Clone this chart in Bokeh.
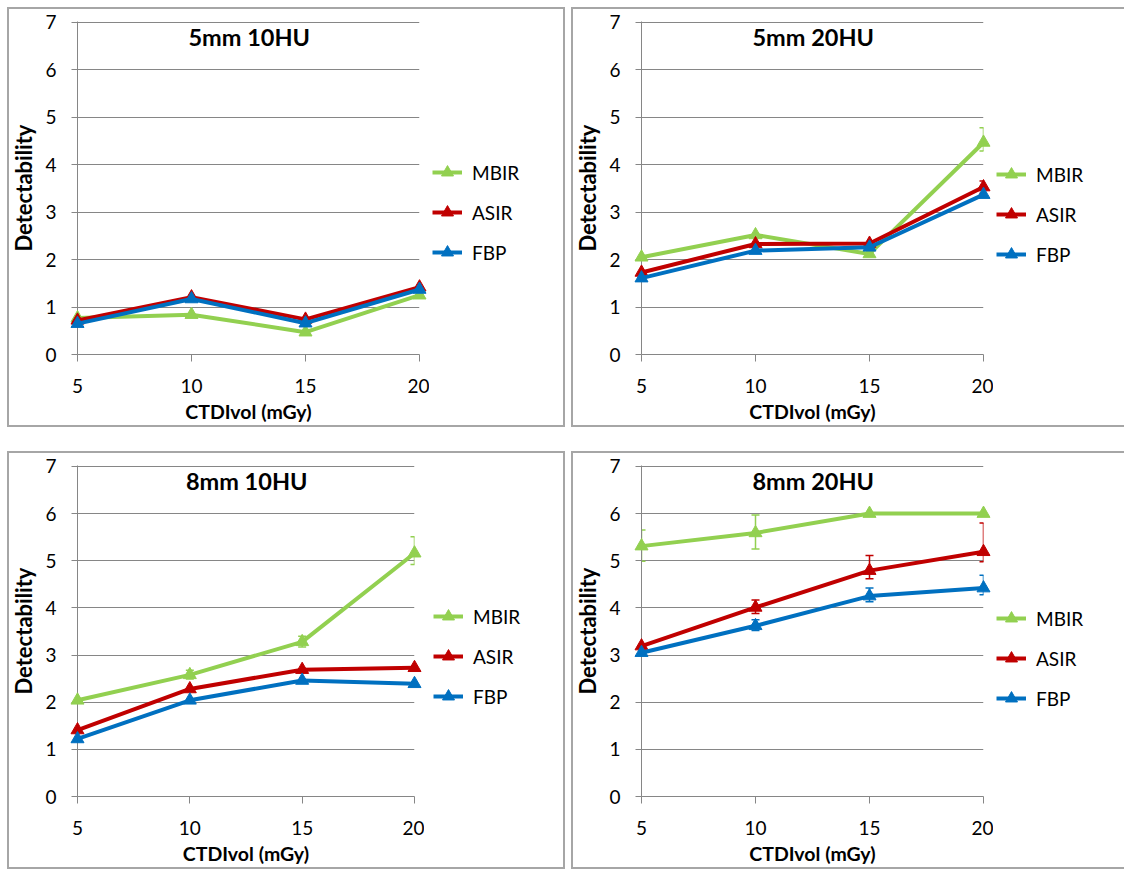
import numpy as np
from bokeh.plotting import figure
from bokeh.layouts import row, column
from bokeh.models import (Range1d, FixedTicker, Legend, LegendItem, Label,
                          Whisker, ColumnDataSource, TeeHead, Spacer)
from bokeh.embed import file_html
from bokeh.resources import INLINE

# ---------------- data ----------------
dose = [5, 10, 15, 20]                 # CTDIvol (mGy)
y_ticks = [0, 1, 2, 3, 4, 5, 6, 7]
series = ["MBIR", "ASIR", "FBP"]
titles = ["5mm 10HU", "5mm 20HU", "8mm 10HU", "8mm 20HU"]

# 5mm 10HU
p1_mbir = [0.77, 0.84, 0.47, 1.25]
p1_asir = [0.72, 1.21, 0.74, 1.42]
p1_fbp = [0.65, 1.17, 0.66, 1.37]

# 5mm 20HU
p2_mbir = [2.05, 2.52, 2.12, 4.47]
p2_asir = [1.73, 2.33, 2.34, 3.53]
p2_fbp = [1.61, 2.19, 2.26, 3.37]
p2_mbir_err_x, p2_mbir_err_lo, p2_mbir_err_hi = [20], [4.29], [4.78]
p2_asir_err_x, p2_asir_err_lo, p2_asir_err_hi = [20], [3.40], [3.66]

# 8mm 10HU
p3_mbir = [2.04, 2.58, 3.28, 5.16]
p3_asir = [1.41, 2.28, 2.69, 2.73]
p3_fbp = [1.22, 2.04, 2.46, 2.39]
p3_mbir_err_x, p3_mbir_err_lo, p3_mbir_err_hi = [10, 15, 20], [2.49, 3.17, 4.92], [2.68, 3.40, 5.51]

# 8mm 20HU
p4_mbir = [5.31, 5.59, 6.0, 6.0]
p4_asir = [3.19, 4.01, 4.79, 5.19]
p4_fbp = [3.05, 3.62, 4.25, 4.42]
p4_mbir_err_x, p4_mbir_err_lo, p4_mbir_err_hi = [5, 10], [4.99, 5.25], [5.65, 5.97]
p4_asir_err_x, p4_asir_err_lo, p4_asir_err_hi = [10, 15, 20], [3.88, 4.62, 4.98], [4.17, 5.11, 5.80]
p4_fbp_err_x, p4_fbp_err_lo, p4_fbp_err_hi = [10, 15, 20], [3.52, 4.13, 4.28], [3.75, 4.42, 4.69]

colors = {"MBIR": "#92D050", "ASIR": "#C00000", "FBP": "#0070C0"}
FONT = "Lato"
GRID = "#868686"
BORDER = "#a6a6a6"
SH_L = f"inset 2px 0 0 0 {BORDER}"
SH_R = f"inset -2px 0 0 0 {BORDER}"
SH_T = f"inset 0 2px 0 0 {BORDER}"
SH_B = f"inset 0 -2px 0 0 {BORDER}"
NO_POINT = np.array([np.nan])          # legend keys carry no visible data


def make_panel(title, vals, errs, width, height, left, data_w, top, fh, legend_dx, full_border):
    pad_r = 10
    main_w = left + data_w + pad_r
    leg_w = width - main_w
    bottom = height - top - fh

    # ---- chart part ----
    p = figure(width=main_w, height=height, output_backend="svg",
               toolbar_location=None,
               x_range=Range1d(dose[0], dose[-1]),
               y_range=Range1d(y_ticks[0], y_ticks[-1] + 0.02),
               min_border_left=left, min_border_right=pad_r,
               min_border_top=top, min_border_bottom=bottom)
    p.border_fill_color = None
    p.outline_line_color = None
    p.background_fill_color = None
    p.styles = {"box-shadow": ", ".join([SH_L, SH_T, SH_B])}

    p.xgrid.visible = False
    p.ygrid.grid_line_color = GRID
    p.ygrid.grid_line_width = 1
    p.ygrid.ticker = FixedTicker(ticks=y_ticks)

    p.xaxis.ticker = FixedTicker(ticks=dose)
    p.yaxis.ticker = FixedTicker(ticks=y_ticks)
    for ax in (p.xaxis[0], p.yaxis[0]):
        ax.axis_line_color = GRID
        ax.major_tick_line_color = GRID
        ax.minor_tick_line_color = None
        ax.major_tick_in = 0
        ax.major_label_text_font = FONT
        ax.major_label_text_font_size = "19px"
        ax.major_label_text_color = "black"
        ax.axis_label_text_font = FONT
        ax.axis_label_text_font_style = "bold"
        ax.axis_label_text_color = "black"
    p.xaxis.axis_label_text_font_size = "19.5px"
    p.yaxis.axis_label_text_font_size = "22px"
    p.xaxis.major_tick_out = 7
    p.yaxis.major_tick_out = 6
    p.xaxis.major_label_standoff = 17
    p.yaxis.major_label_standoff = 15
    p.xaxis.axis_label = "CTDIvol (mGy)"
    p.yaxis.axis_label = "Detectability"
    p.xaxis.axis_label_standoff = 4
    p.yaxis.axis_label_standoff = 5

    # ---- legend part ----
    q = figure(width=leg_w, height=height, output_backend="svg",
               toolbar_location=None, x_axis_type=None, y_axis_type=None,
               x_range=Range1d(0, 1), y_range=Range1d(0, 1), min_border=0)
    q.border_fill_color = None
    q.outline_line_color = None
    q.background_fill_color = None
    q.styles = {"box-shadow": ", ".join(([SH_R] if full_border else []) + [SH_T, SH_B])}

    items = []
    for name in series:
        c = colors[name]
        if name in errs:
            ex, lo, hi = errs[name]
            src = ColumnDataSource(dict(x=ex, lower=lo, upper=hi))
            w = Whisker(source=src, base="x", lower="lower", upper="upper",
                        dimension="height", line_color=c, line_width=1.5,
                        upper_head=TeeHead(size=8, line_color=c, line_width=1.5),
                        lower_head=TeeHead(size=8, line_color=c, line_width=1.5))
            p.add_layout(w)
        p.line(dose, vals[name], line_color=c, line_width=4, level="overlay")
        p.scatter(dose, vals[name], marker="triangle", size=13,
                  fill_color=c, line_color=c, level="overlay")
        # legend keys (same styling)
        lr = q.line(NO_POINT, NO_POINT, line_color=c, line_width=4)
        sr = q.scatter(NO_POINT, NO_POINT, marker="triangle", size=13,
                       fill_color=c, line_color=c)
        items.append(LegendItem(label=name, renderers=[lr, sr]))

    # the legend figure's frame is aligned with the chart frame in the row
    legend = Legend(items=items, location=(legend_dx - pad_r, fh - 248),
                    orientation="vertical", glyph_width=30, glyph_height=30,
                    label_height=30, spacing=10, padding=0, margin=0,
                    label_standoff=10, border_line_color=None,
                    background_fill_alpha=0,
                    label_text_font=FONT, label_text_font_size="19px",
                    label_text_color="black")
    q.add_layout(legend)

    xmid = (dose[0] + dose[-1]) / 2 + 0.03
    ytop = y_ticks[-1] - 14.5 * (y_ticks[-1] - y_ticks[0]) / fh
    p.add_layout(Label(x=xmid, y=ytop, text=title, text_align="center",
                       text_baseline="middle", text_font=FONT,
                       text_font_size="23.5px", text_font_style="bold",
                       text_color="black"))
    return p, q


v1 = {"MBIR": p1_mbir, "ASIR": p1_asir, "FBP": p1_fbp}
v2 = {"MBIR": p2_mbir, "ASIR": p2_asir, "FBP": p2_fbp}
v3 = {"MBIR": p3_mbir, "ASIR": p3_asir, "FBP": p3_fbp}
v4 = {"MBIR": p4_mbir, "ASIR": p4_asir, "FBP": p4_fbp}
e1 = {}
e2 = {"MBIR": (p2_mbir_err_x, p2_mbir_err_lo, p2_mbir_err_hi),
      "ASIR": (p2_asir_err_x, p2_asir_err_lo, p2_asir_err_hi)}
e3 = {"MBIR": (p3_mbir_err_x, p3_mbir_err_lo, p3_mbir_err_hi)}
e4 = {"MBIR": (p4_mbir_err_x, p4_mbir_err_lo, p4_mbir_err_hi),
      "ASIR": (p4_asir_err_x, p4_asir_err_lo, p4_asir_err_hi),
      "FBP": (p4_fbp_err_x, p4_fbp_err_lo, p4_fbp_err_hi)}

# panel geometry: width, height, frame left, data width, frame top, frame height
p1, q1 = make_panel(titles[0], v1, e1, 558, 420, 66, 346, 14, 335, 13, True)
p2, q2 = make_panel(titles[1], v2, e2, 553, 420, 66, 346, 14, 333, 13, False)
p3, q3 = make_panel(titles[2], v3, e3, 558, 418, 69, 338, 14, 333, 19, True)
p4, q4 = make_panel(titles[3], v4, e4, 553, 418, 64, 348, 14, 331, 13, False)

layout = column(
    Spacer(width=1, height=7),
    row(Spacer(width=7, height=1), p1, q1, Spacer(width=6, height=1), p2, q2, spacing=0),
    Spacer(width=1, height=24),
    row(Spacer(width=7, height=1), p3, q3, Spacer(width=6, height=1), p4, q4, spacing=0),
    spacing=0)

open("out.html", "w").write(file_html(layout, INLINE))
